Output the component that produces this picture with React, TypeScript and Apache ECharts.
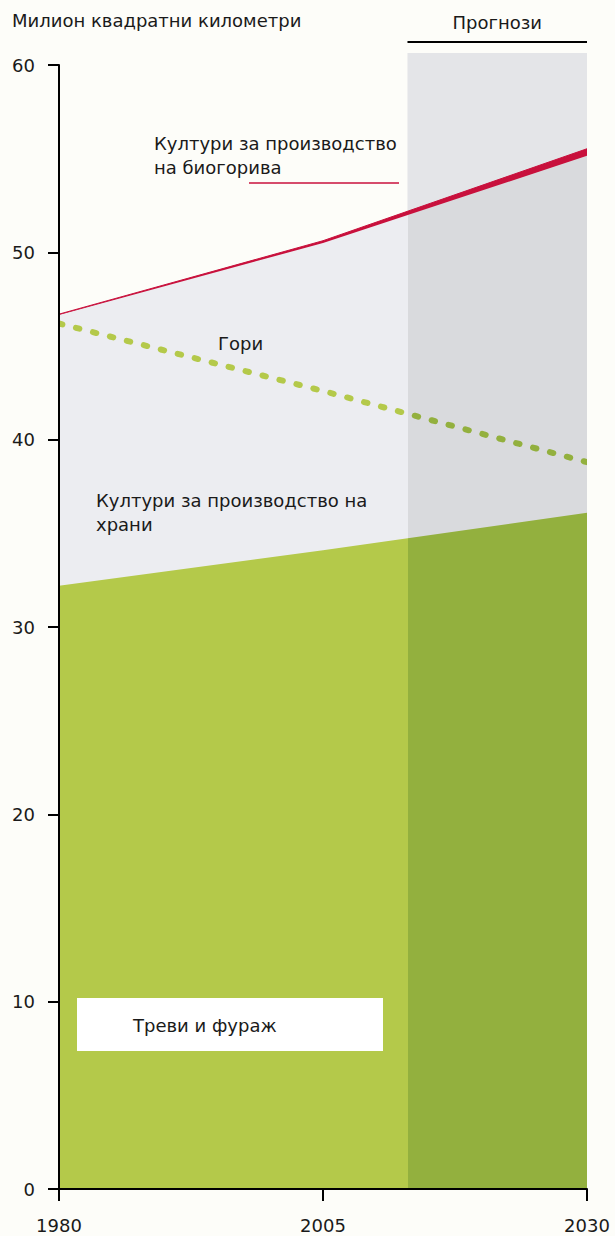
import { useEffect, useRef } from "react";
import * as echarts from "echarts";

// Years on the horizontal axis
const years = [1980, 2005, 2030];
// Million km² (stacked: grassland & fodder, food crops, biofuel crops)
const grassFodder = [32.2, 34.1, 36.1];
const foodCrops = [14.45, 16.4, 19.05];
const bioCrops = [0.05, 0.12, 0.38];
// Forests (not stacked)
const forests = [46.2, 42.6, 38.8];

const xTicks = [1980, 2005, 2030];
const forecastStart = 2013;
const forecastEnd = 2030;

const title = "Милион квадратни километри";
const forecastLabel = "Прогнози";
const bioLabel = "Култури за производство\nна биогорива";
const forestLabel = "Гори";
const foodLabel = "Култури за производство на\nхрани";
const grassLabel = "Треви и фураж";

const FONT = "'DejaVu Sans', Verdana, sans-serif";
const TEXT = "#1a1a1a";

export default function App() {
  const ref = useRef<HTMLDivElement>(null);

  useEffect(() => {
    if (!ref.current) return;
    const chart = echarts.init(ref.current, undefined, { renderer: "svg" });

    // cumulative tops of the stacked layers
    const foodTop = grassFodder.map((g, i) => g + foodCrops[i]);
    const bioTop = foodTop.map((f, i) => f + bioCrops[i]);

    const pair = (vals: number[]) => years.map((y, i) => [y, vals[i]]);
    const pieces = (a: string, b: string) => [
      { gte: years[0], lt: forecastStart, color: a },
      { gte: forecastStart, lte: forecastEnd, color: b },
    ];

    chart.setOption({
      animation: false,
      backgroundColor: "#fdfdf9",
      grid: { left: 59, right: 28, top: 65, bottom: 47, outerBoundsMode: "none" },
      xAxis: {
        type: "value",
        min: 1980,
        max: 2030,
        z: 10,
        splitLine: { show: false },
        axisLine: { show: true, lineStyle: { color: "#000", width: 2 } },
        axisTick: { show: true, length: 12, lineStyle: { color: "#000", width: 2 }, customValues: xTicks },
        axisLabel: {
          customValues: xTicks,
          margin: 27,
          fontSize: 18,
          fontFamily: FONT,
          color: TEXT,
          formatter: (v: number) => String(v),
        },
      },
      yAxis: {
        type: "value",
        min: 0,
        max: 60,
        interval: 10,
        z: 10,
        splitLine: { show: false },
        axisLine: { show: true, lineStyle: { color: "#000", width: 2 } },
        axisTick: { show: true, length: 11, lineStyle: { color: "#000", width: 2 } },
        axisLabel: { margin: 24, fontSize: 18, fontFamily: FONT, color: TEXT },
      },
      visualMap: [
        { type: "piecewise", show: false, dimension: 0, seriesIndex: 1, pieces: pieces("#ecedf1", "#d9dadd") },
        { type: "piecewise", show: false, dimension: 0, seriesIndex: 2, pieces: pieces("#b4c94a", "#93b03e") },
        { type: "piecewise", show: false, dimension: 0, seriesIndex: 3, pieces: pieces("#b4c94a", "#93b03e") },
      ],
      series: [
        {
          type: "line",
          name: "bio",
          data: pair(bioTop),
          symbol: "none",
          color: "#c8103c",
          lineStyle: { width: 1, color: "#c8103c" },
          areaStyle: { opacity: 1, color: "#c8103c" },
        },
        {
          type: "line",
          name: "food",
          data: pair(foodTop),
          symbol: "none",
          lineStyle: { width: 0 },
          areaStyle: { opacity: 1 },
        },
        {
          type: "line",
          name: "grass",
          data: pair(grassFodder),
          symbol: "none",
          lineStyle: { width: 0 },
          areaStyle: { opacity: 1 },
        },
        {
          type: "line",
          name: "forest",
          data: pair(forests),
          symbol: "none",
          z: 3,
          lineStyle: { width: 6, type: [3.5, 14], cap: "round" },
        },
      ],
    });

    const x0 = chart.convertToPixel({ xAxisIndex: 0 }, forecastStart) as number;
    const x1 = chart.convertToPixel({ xAxisIndex: 0 }, forecastEnd) as number;
    const yb = chart.convertToPixel({ yAxisIndex: 0 }, 0) as number;
    const bandTop = 53;

    const txt = (x: number, y: number, text: string, extra: any = {}) => ({
      type: "text",
      x,
      y,
      z: 100,
      style: {
        text,
        fill: TEXT,
        font: `18px ${FONT}`,
        lineHeight: 24,
        verticalAlign: "top",
        ...extra,
      },
    });

    chart.setOption({
      graphic: [
        { type: "rect", z: 0, shape: { x: x0, y: bandTop, width: x1 - x0, height: yb - bandTop }, style: { fill: "#e4e5e8" } },
        { type: "line", z: 100, shape: { x1: x0, y1: 42, x2: x1, y2: 42 }, style: { stroke: "#000", lineWidth: 2 } },
        txt((x0 + x1) / 2, 10, forecastLabel, { align: "center" }),
        txt(12, 8, title),
        txt(154, 131, bioLabel),
        { type: "line", z: 100, shape: { x1: 249, y1: 183, x2: 399, y2: 183 }, style: { stroke: "#c8103c", lineWidth: 1.5 } },
        txt(218, 331, forestLabel),
        txt(96, 488, foodLabel),
        { type: "rect", z: 99, shape: { x: 77, y: 998, width: 306, height: 53 }, style: { fill: "#ffffff" } },
        txt(133, 1013, grassLabel),
      ],
    });

    return () => chart.dispose();
  }, []);

  return (
    <div
      ref={ref}
      style={{ position: "absolute", left: 0, top: 0, width: 615, height: 1236 }}
    />
  );
}
